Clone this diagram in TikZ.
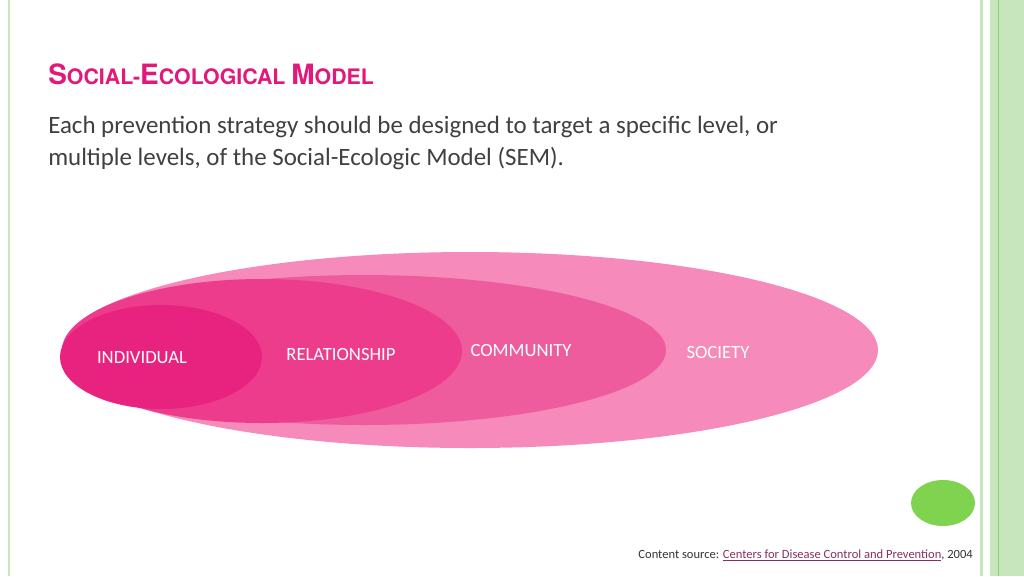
\documentclass[tikz,border=0pt]{standalone}
\usepackage{fontspec}
\setmainfont{Carlito}
\newfontfamily\titlefont{TeX Gyre Heros}
\definecolor{ttl}{HTML}{E2187A}
\definecolor{soc}{HTML}{F58ABB}
\definecolor{com}{HTML}{EF5C9E}
\definecolor{rel}{HTML}{EC3C8B}
\definecolor{ind}{HTML}{E8237F}
\definecolor{grn}{HTML}{C8E6BE}
\definecolor{grnd}{HTML}{8CCF6A}
\definecolor{dot}{HTML}{7FD34E}
\definecolor{lnk}{HTML}{8A2E62}
\begin{document}
\begin{tikzpicture}[x=0.75pt,y=-0.75pt,
  lvl/.style={text=white,font=\fontsize{14}{16}\selectfont}]
\useasboundingbox (0,0) rectangle (1024,576);
\fill[white] (0,0) rectangle (1024,576);
% borders
\fill[grn] (8,0) rectangle (10,576);
\fill[grn] (980,0) rectangle (983,576);
\fill[grn] (990,0) rectangle (1024,576);
\fill[grnd] (998,0) rectangle (999,576);
% title
\node[anchor=base west,inner sep=0,text=ttl,font=\titlefont\bfseries] (title) at (48,84)
 {\fontsize{21}{22}\selectfont S\fontsize{16}{18}\selectfont OCIAL-\fontsize{21}{22}\selectfont E\fontsize{16}{18}\selectfont COLOGICAL \fontsize{21}{22}\selectfont M\fontsize{16}{18}\selectfont ODEL};
\node[anchor=north west,inner sep=0,align=left,text=black!75,font=\fontsize{18.7}{24}\selectfont] (body) at (48,116)
 {Each prevention strategy should be designed to target a specific level, or\\multiple levels, of the Social-Ecologic Model (SEM).};
% ellipses
\fill[soc] (470,350) ellipse [x radius=408,y radius=98];
\fill[com] (364,350) ellipse [x radius=302,y radius=75];
\fill[rel] (262,351) ellipse [x radius=200,y radius=72];
\fill[ind] (161,357) ellipse [x radius=101,y radius=52];
\node[lvl] (i) at (142,358) {INDIVIDUAL};
\node[lvl] (r) at (341,354) {RELATIONSHIP};
\node[lvl] (c) at (521,351) {COMMUNITY};
\node[lvl] (s) at (718,352) {SOCIETY};
% green dot
\fill[dot] (943,503) ellipse [x radius=32,y radius=23];
% footer
\node[anchor=base east,inner sep=0,text=black!80,font=\fontsize{9.4}{11}\selectfont] (foot) at (973,558)
 {Content source: \textcolor{lnk}{\underline{Centers for Disease Control and Prevention}}, 2004};
\end{tikzpicture}
\end{document}
